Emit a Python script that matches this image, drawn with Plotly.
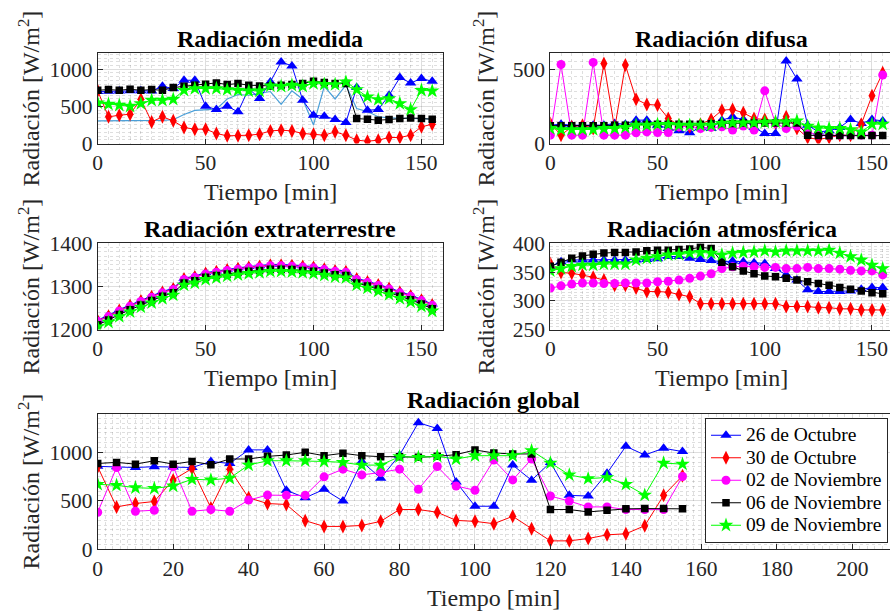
import plotly.graph_objects as go

# ---------------- data ----------------
t = [0, 5, 10, 15, 20, 25, 30, 35, 40, 45, 50, 55, 60, 65, 70, 75,
     80, 85, 90, 95, 100, 105, 110, 115, 120, 125, 130, 135, 140, 145, 150, 155]

names = ["26 de Octubre", "30 de Octubre", "02 de Noviembre", "06 de Noviembre", "09 de Noviembre"]

# Radiación medida
med_26oct = [700, 705, 708, 710, 710, 708, 771, 740, 852, 852, 502, 457, 502, 426, 740, 605,
             830, 1099, 1045, 583, 381, 368, 323, 283, 753, 448, 457, 650, 888, 816, 874, 839]
med_30oct = [710, 359, 381, 395, 596, 291, 359, 305, 215, 193, 193, 135, 103, 103, 112, 126,
             170, 179, 170, 135, 126, 112, 157, 112, 45, 31, 45, 81, 81, 112, 224, 260]
med_06nov = [717, 726, 717, 731, 717, 726, 717, 753, 771, 785, 798, 816, 794, 807, 785, 776,
             776, 785, 794, 807, 839, 821, 807, 807, 336, 327, 314, 323, 336, 345, 336, 327]
med_09nov = [547, 529, 516, 502, 538, 583, 583, 596, 717, 740, 740, 740, 726, 717, 708, 708,
             776, 771, 785, 771, 807, 798, 794, 830, 726, 628, 592, 605, 538, 457, 717, 708]
med_extra = [305, 305, 305, 308, 310, 310, 312, 320, 390, 445, 458, 462, 600, 660, 650, 680,
             700, 527, 710, 596, 250, 770, 600, 787, 470, 430, 360, 345, 340, 340, 340, 330]

# Radiación difusa
dif_26oct = [123, 130, 123, 123, 123, 123, 135, 130, 157, 157, 123, 101, 85, 72, 108, 101,
             157, 179, 161, 108, 67, 67, 554, 433, 123, 78, 85, 108, 161, 135, 161, 152]
dif_30oct = [135, 56, 112, 123, 101, 538, 101, 527, 298, 262, 258, 168, 123, 112, 130, 161,
             224, 229, 206, 168, 161, 139, 179, 101, 40, 27, 40, 56, 56, 130, 321, 475]
dif_02nov = [56, 531, 56, 56, 545, 56, 56, 56, 72, 78, 74, 74, 112, 117, 101, 108,
             112, 90, 117, 90, 354, 135, 101, 117, 78, 56, 56, 56, 56, 56, 56, 460]
dif_06nov = [120, 120, 120, 120, 120, 120, 122, 122, 128, 128, 130, 130, 130, 130, 130, 132,
             135, 135, 137, 137, 138, 138, 138, 138, 55, 53, 52, 53, 53, 53, 53, 53]
dif_09nov = [101, 94, 94, 94, 94, 101, 101, 108, 123, 123, 128, 128, 123, 123, 123, 123,
             135, 139, 139, 139, 143, 145, 145, 152, 117, 105, 101, 101, 94, 78, 130, 130]

# Radiación extraterrestre
ext_26oct = [1222, 1233, 1246, 1257, 1268, 1278, 1288, 1296, 1319, 1324, 1332, 1336, 1340, 1343, 1346, 1348,
             1351, 1351, 1350, 1348, 1346, 1342, 1338, 1336, 1319, 1312, 1305, 1297, 1288, 1280, 1270, 1259]
ext_30oct = [1220, 1231, 1244, 1255, 1266, 1276, 1286, 1294, 1317, 1322, 1330, 1334, 1338, 1341, 1344, 1346,
             1349, 1349, 1348, 1346, 1344, 1340, 1336, 1334, 1317, 1310, 1303, 1295, 1286, 1278, 1268, 1257]
ext_02nov = [1219, 1230, 1243, 1254, 1265, 1275, 1285, 1293, 1316, 1321, 1329, 1333, 1337, 1340, 1343, 1345,
             1348, 1348, 1347, 1345, 1343, 1339, 1335, 1333, 1316, 1309, 1302, 1294, 1285, 1277, 1267, 1256]
ext_06nov = [1211, 1222, 1235, 1246, 1257, 1267, 1277, 1285, 1308, 1313, 1321, 1325, 1329, 1332, 1335, 1337,
             1340, 1340, 1339, 1337, 1335, 1331, 1327, 1325, 1308, 1301, 1294, 1286, 1277, 1269, 1259, 1248]
ext_09nov = [1206, 1217, 1230, 1241, 1252, 1262, 1272, 1280, 1303, 1308, 1316, 1320, 1324, 1327, 1330, 1332,
             1335, 1335, 1334, 1332, 1330, 1326, 1322, 1320, 1303, 1296, 1289, 1281, 1272, 1264, 1254, 1243]

# Radiación atmosférica
atm_26oct = [359, 368, 371, 371, 371, 371, 371, 371, 371, 372, 373, 377, 377, 374, 372, 370,
             368, 369, 368, 366, 365, 356, 345, 336, 319, 316, 316, 316, 317, 320, 323, 323]
atm_30oct = [365, 349, 348, 345, 341, 336, 327, 327, 322, 316, 316, 315, 311, 307, 295, 295,
             295, 295, 295, 295, 295, 295, 290, 290, 290, 288, 288, 286, 286, 284, 284, 284]
atm_02nov = [322, 326, 329, 331, 331, 330, 330, 331, 331, 331, 333, 334, 336, 339, 343, 347,
             356, 359, 360, 359, 358, 358, 356, 356, 358, 356, 356, 355, 353, 352, 352, 345]
atm_06nov = [360, 367, 374, 378, 381, 383, 384, 384, 385, 387, 388, 388, 389, 390, 393, 391,
             367, 359, 352, 347, 343, 342, 339, 336, 333, 330, 327, 323, 320, 317, 314, 312]
atm_09nov = [352, 356, 360, 362, 362, 364, 364, 364, 371, 374, 377, 380, 381, 383, 384, 383,
             380, 383, 384, 385, 387, 385, 387, 387, 387, 387, 388, 383, 377, 371, 362, 356]

# Radiación global
glo_26oct = [855, 852, 843, 852, 848, 843, 905, 885, 1025, 1025, 608, 531, 618, 497, 905, 733,
             970, 1305, 1245, 694, 444, 444, 868, 712, 896, 556, 549, 785, 1062, 972, 1042, 1007]
glo_30oct = [850, 437, 472, 493, 715, 833, 427, 826, 531, 472, 462, 295, 236, 236, 246, 288,
             410, 410, 382, 298, 288, 264, 340, 212, 87, 87, 111, 149, 160, 243, 556, 757]
glo_02nov = [382, 843, 392, 403, 854, 392, 410, 392, 507, 559, 556, 556, 747, 826, 767, 792,
             826, 618, 854, 653, 608, 920, 715, 931, 549, 497, 437, 437, 410, 410, 410, 750]
glo_06nov = [885, 896, 878, 913, 878, 906, 871, 931, 931, 958, 972, 1000, 965, 990, 965, 955,
             955, 948, 958, 976, 1024, 993, 983, 983, 410, 410, 385, 403, 417, 420, 420, 417]
glo_09nov = [670, 660, 635, 628, 653, 722, 715, 733, 868, 913, 913, 913, 906, 896, 868, 868,
             955, 948, 958, 931, 965, 965, 965, 1017, 889, 767, 729, 740, 670, 559, 889, 878]

# ---------------- styles ----------------
W, H = 890, 614
FONT = "Liberation Serif"
AX = "#262626"
colors = ["#0000FF", "#FF0000", "#FF00FF", "#000000", "#00FF00"]
symbols = ["triangle-up", "diamond-tall", "circle", "square", "star"]
sizes = [10, 10, 9, 7.5, 11]

# axes rectangles in pixels: left, top, right, bottom
boxes = {
    1: (97.7, 53.3, 443.0, 143.5),
    2: (550.3, 53.3, 890.0, 143.5),
    3: (97.7, 243.3, 443.0, 329.5),
    4: (550.3, 243.3, 890.0, 329.5),
    5: (97.7, 413.5, 890.0, 549.3),
}
xranges = {1: [0, 160], 2: [0, 158.4], 3: [0, 160], 4: [0, 158.4], 5: [0, 210]}
yranges = {1: [0, 1215], 2: [0, 606], 3: [1200, 1400], 4: [250, 400], 5: [0, 1400]}
xdt = {1: (50, 5), 2: (50, 5), 3: (50, 5), 4: (50, 5), 5: (20, 2)}
ydt = {1: (500, 50), 2: (500, 50), 3: (100, 10), 4: (50, 5), 5: (500, 50)}

panels = {
    1: [med_26oct, med_30oct, None, med_06nov, med_09nov],
    2: [dif_26oct, dif_30oct, dif_02nov, dif_06nov, dif_09nov],
    3: [ext_26oct, ext_30oct, ext_02nov, ext_06nov, ext_09nov],
    4: [atm_26oct, atm_30oct, atm_02nov, atm_06nov, atm_09nov],
    5: [glo_26oct, glo_30oct, glo_02nov, glo_06nov, glo_09nov],
}
titles = {1: "Radiación medida", 2: "Radiación difusa", 3: "Radiación extraterrestre",
          4: "Radiación atmosférica", 5: "Radiación global"}

fig = go.Figure()

for k in range(1, 6):
    xa = "x" if k == 1 else f"x{k}"
    ya = "y" if k == 1 else f"y{k}"
    if k == 1:
        fig.add_trace(go.Scatter(x=t, y=med_extra, mode="lines", xaxis=xa, yaxis=ya,
                                 line=dict(color="#4A9FD8", width=1.2), showlegend=False,
                                 hoverinfo="skip"))
    for i, vals in enumerate(panels[k]):
        if vals is None:
            continue
        fig.add_trace(go.Scatter(
            x=t, y=vals, mode="lines+markers", xaxis=xa, yaxis=ya,
            name=f'<span style="font-size:19.5px">{names[i]}</span>',
            line=dict(color=colors[i], width=1),
            marker=dict(symbol=symbols[i], size=sizes[i], color=colors[i]),
            showlegend=(k == 5),
        ))

layout = dict(
    width=W, height=H, autosize=False,
    margin=dict(l=0, r=0, t=0, b=0, pad=0, autoexpand=False),
    paper_bgcolor="white", plot_bgcolor="white",
    font=dict(family=FONT, color=AX),
    showlegend=True,
    legend=dict(
        x=705 / W, y=1 - 418 / H, xanchor="left", yanchor="top",
        bgcolor="white", bordercolor=AX, borderwidth=1,
        font=dict(family=FONT, size=15, color="black"),
        tracegroupgap=0, itemwidth=30,
    ),
)

annotations = []
for k in range(1, 6):
    l, tp, r, b = boxes[k]
    xkey = "xaxis" if k == 1 else f"xaxis{k}"
    ykey = "yaxis" if k == 1 else f"yaxis{k}"
    ya = "y" if k == 1 else f"y{k}"
    xa = "x" if k == 1 else f"x{k}"
    common = dict(
        showline=True, linecolor=AX, linewidth=1, mirror=True,
        ticks="inside", ticklen=5, tickcolor=AX,
        showgrid=True, gridcolor="rgba(0,0,0,0.13)", gridwidth=1,
        zeroline=False, tickfont=dict(family=FONT, size=21.5, color=AX),
        automargin=False,
    )
    layout[xkey] = dict(
        common, domain=[l / W, min(r / W, 1.0)], range=xranges[k], anchor=ya,
        dtick=xdt[k][0], tick0=0,
        minor=dict(dtick=xdt[k][1], tick0=0, showgrid=True, gridcolor="rgba(0,0,0,0.13)",
                   griddash="dot", gridwidth=1, ticks=""),
    )
    layout[ykey] = dict(
        common, domain=[1 - b / H, 1 - tp / H], range=yranges[k], anchor=xa,
        dtick=ydt[k][0], tick0=0,
        minor=dict(dtick=ydt[k][1], tick0=0, showgrid=True, gridcolor="rgba(0,0,0,0.13)",
                   griddash="dot", gridwidth=1, ticks=""),
    )
    # centre of axes (MATLAB box for right column extends slightly past the page)
    rr = 893.0 if k in (2, 4) else r
    cx = (l + rr) / 2
    annotations.append(dict(text=f"<b>{titles[k]}</b>", x=cx / W, y=1 - (tp - 14) / H,
                            xref="paper", yref="paper", showarrow=False,
                            xanchor="center", yanchor="middle",
                            font=dict(family=FONT, size=24, color="black")))
    annotations.append(dict(text="Tiempo [min]", x=cx / W, y=1 - (b + 48.5) / H,
                            xref="paper", yref="paper", showarrow=False,
                            xanchor="center", yanchor="middle",
                            font=dict(family=FONT, size=24, color=AX)))
    ylx = 29 if k in (1, 3, 5) else 484
    annotations.append(dict(text="Radiación [W/m<sup>2</sup>]", x=ylx / W,
                            y=1 - ((tp + b) / 2) / H, xref="paper", yref="paper",
                            showarrow=False, textangle=-90,
                            xanchor="center", yanchor="middle",
                            font=dict(family=FONT, size=24, color=AX)))

layout["annotations"] = annotations
fig.update_layout(**layout)

fig.write_html("out.html")
